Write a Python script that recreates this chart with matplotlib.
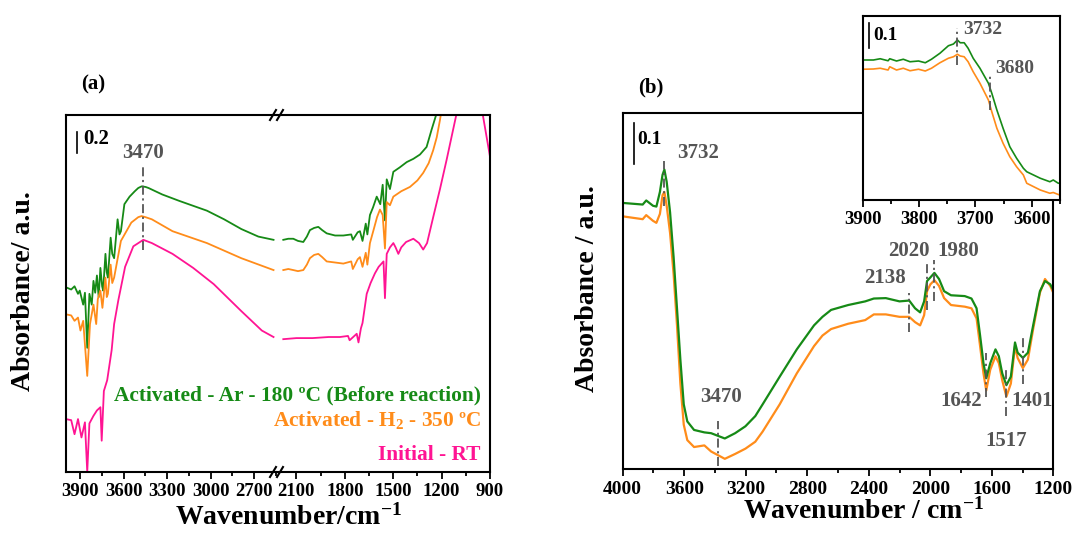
import matplotlib
matplotlib.use("Agg")
import matplotlib.pyplot as plt
from matplotlib.lines import Line2D
from matplotlib.ticker import MultipleLocator

plt.rcParams['font.family'] = ['Liberation Serif', 'DejaVu Serif']
plt.rcParams['font.weight'] = 'bold'
plt.rcParams['mathtext.fontset'] = 'custom'
plt.rcParams['mathtext.rm'] = 'Liberation Serif:bold'
plt.rcParams['mathtext.it'] = 'Liberation Serif:bold'
plt.rcParams['mathtext.bf'] = 'Liberation Serif:bold'
plt.rcParams['mathtext.default'] = 'rm'

GREEN = '#168a16'
ORANGE = '#ff8c1a'
PINK = '#ff1493'
GREY = '#555555'

# ---- panel (a): left segment (4000-2540 cm-1) ----
a_ar_wn_l = [4000, 3964, 3941, 3917, 3905, 3881, 3869, 3853, 3838, 3822, 3810, 3798, 3786, 3774, 3762,
             3750, 3743, 3727, 3718, 3710, 3691, 3680, 3667, 3643, 3630, 3620, 3596, 3560, 3524, 3500,
             3477, 3450, 3429, 3334, 3215, 3025, 2906, 2787, 2669, 2564]
a_ar_abs_l = [1.71, 1.69, 1.72, 1.65, 1.68, 1.55, 1.66, 1.15, 1.65, 1.55, 1.77, 1.66, 1.82, 1.62, 1.89,
              1.72, 1.68, 2.02, 1.85, 1.80, 2.17, 2.02, 1.98, 2.34, 2.20, 2.23, 2.48, 2.55, 2.60, 2.63,
              2.645, 2.64, 2.63, 2.57, 2.51, 2.42, 2.34, 2.25, 2.18, 2.15]
a_h2_wn_l = [4000, 3964, 3941, 3917, 3900, 3881, 3853, 3834, 3810, 3791, 3780, 3762, 3748, 3727, 3718,
             3710, 3691, 3680, 3667, 3620, 3548, 3500, 3477, 3450, 3406, 3263, 3025, 2787, 2564]
a_h2_abs_l = [1.46, 1.45, 1.40, 1.43, 1.31, 1.40, 0.89, 1.37, 1.55, 1.37, 1.60, 1.68, 1.52, 1.80, 1.62,
              1.65, 1.92, 1.75, 1.80, 2.14, 2.31, 2.36, 2.37, 2.36, 2.34, 2.23, 2.12, 1.98, 1.87]
a_rt_wn_l = [4000, 3964, 3941, 3917, 3893, 3869, 3853, 3838, 3810, 3786, 3762, 3753, 3738, 3715, 3684,
             3667, 3638, 3591, 3534, 3465, 3406, 3263, 3120, 2978, 2787, 2645, 2564]
a_rt_abs_l = [0.49, 0.48, 0.35, 0.49, 0.32, 0.46, 0.00, 0.45, 0.52, 0.57, 0.60, 0.29, 0.75, 0.85, 1.13,
              1.37, 1.59, 1.90, 2.09, 2.15, 2.12, 2.02, 1.89, 1.74, 1.49, 1.31, 1.25]

# ---- panel (a): right segment (2220-900 cm-1) ----
a_ar_wn_r = [2181, 2150, 2119, 2090, 2057, 2035, 2016, 1990, 1964, 1940, 1912, 1860, 1809, 1760, 1750,
             1720, 1706, 1690, 1670, 1660, 1644, 1625, 1602, 1580, 1565, 1551, 1540, 1520, 1499, 1460,
             1416, 1375, 1334, 1293, 1262, 1231, 1215]
a_ar_abs_r = [2.15, 2.16, 2.16, 2.14, 2.13, 2.18, 2.24, 2.26, 2.27, 2.24, 2.21, 2.19, 2.19, 2.20, 2.15,
              2.22, 2.23, 2.14, 2.30, 2.20, 2.38, 2.45, 2.55, 2.48, 2.66, 2.33, 2.71, 2.62, 2.78, 2.82,
              2.87, 2.90, 2.94, 3.01, 3.17, 3.32, 3.45]
a_h2_wn_r = [2181, 2150, 2119, 2090, 2057, 2035, 2016, 1990, 1964, 1940, 1912, 1860, 1809, 1760, 1750,
             1720, 1706, 1690, 1670, 1660, 1644, 1620, 1600, 1582, 1565, 1551, 1540, 1520, 1499, 1450,
             1396, 1350, 1314, 1280, 1252, 1230, 1210, 1195]
a_h2_abs_r = [1.87, 1.88, 1.87, 1.86, 1.87, 1.92, 1.98, 2.01, 2.02, 1.99, 1.95, 1.94, 1.93, 1.95, 1.88,
              1.97, 1.99, 1.90, 2.03, 1.92, 2.12, 2.25, 2.36, 2.43, 2.38, 2.07, 2.50, 2.47, 2.55, 2.60,
              2.64, 2.70, 2.77, 2.86, 2.98, 3.10, 3.26, 3.40]
a_rt_wn_r = [2181, 2100, 2000, 1900, 1830, 1780, 1770, 1726, 1715, 1700, 1690, 1664, 1640, 1613, 1590,
             1560, 1551, 1540, 1520, 1499, 1485, 1468, 1450, 1420, 1375, 1340, 1314, 1290, 1252, 1210,
             1169, 1107, 1085, 960, 946, 900]
a_rt_abs_r = [1.23, 1.24, 1.24, 1.25, 1.25, 1.26, 1.22, 1.28, 1.20, 1.33, 1.38, 1.65, 1.75, 1.84, 1.90,
              1.95, 1.61, 2.02, 2.08, 2.12, 2.08, 2.02, 2.08, 2.13, 2.16, 2.12, 2.06, 2.12, 2.36, 2.62,
              2.89, 3.32, 3.50, 3.50, 3.32, 2.92]

# ---- panel (b) ----
b_wn = [4000, 3870, 3847, 3803, 3781, 3758, 3741, 3729, 3714, 3692, 3669, 3647, 3625, 3603, 3580,
        3536, 3469, 3425, 3336, 3269, 3202, 3138, 3090, 2979, 2868, 2756, 2701, 2645, 2534, 2423,
        2367, 2289, 2200, 2137, 2099, 2066, 2040, 2021, 1999, 1973, 1943, 1910, 1865, 1776, 1732,
        1699, 1676, 1654, 1636, 1610, 1576, 1554, 1532, 1505, 1476, 1449, 1432, 1398, 1365, 1331,
        1287, 1254, 1220, 1200]
b_ar_abs = [0.654, 0.650, 0.660, 0.647, 0.645, 0.681, 0.723, 0.736, 0.706, 0.631, 0.521, 0.395, 0.269,
            0.159, 0.117, 0.096, 0.090, 0.088, 0.075, 0.088, 0.105, 0.130, 0.159, 0.227, 0.294, 0.353,
            0.374, 0.391, 0.403, 0.412, 0.419, 0.420, 0.412, 0.414, 0.395, 0.385, 0.412, 0.462, 0.471,
            0.482, 0.467, 0.437, 0.427, 0.425, 0.419, 0.395, 0.328, 0.260, 0.223, 0.260, 0.294, 0.277,
            0.235, 0.206, 0.227, 0.311, 0.286, 0.273, 0.286, 0.353, 0.437, 0.462, 0.454, 0.440]
b_h2_abs = [0.621, 0.614, 0.624, 0.610, 0.605, 0.627, 0.673, 0.681, 0.647, 0.580, 0.479, 0.353, 0.210,
            0.109, 0.071, 0.054, 0.058, 0.043, 0.025, 0.037, 0.050, 0.067, 0.092, 0.159, 0.235, 0.302,
            0.328, 0.344, 0.357, 0.366, 0.380, 0.380, 0.374, 0.374, 0.361, 0.353, 0.378, 0.437, 0.454,
            0.464, 0.450, 0.420, 0.403, 0.399, 0.395, 0.370, 0.302, 0.235, 0.193, 0.244, 0.277, 0.260,
            0.218, 0.178, 0.210, 0.302, 0.273, 0.248, 0.269, 0.344, 0.433, 0.467, 0.450, 0.433]

# ---- inset of (b) ----
in_wn = [3900, 3881, 3869, 3855, 3852, 3840, 3828, 3816, 3801, 3789, 3778, 3763, 3748, 3739, 3732,
         3727, 3720, 3713, 3704, 3692, 3677, 3671, 3662, 3651, 3639, 3627, 3615, 3609, 3585, 3568,
         3562, 3553, 3550]
in_ar_abs = [0.560, 0.560, 0.565, 0.557, 0.565, 0.556, 0.563, 0.553, 0.556, 0.549, 0.563, 0.587, 0.617,
             0.624, 0.640, 0.629, 0.629, 0.607, 0.567, 0.527, 0.467, 0.427, 0.360, 0.287, 0.213, 0.167,
             0.127, 0.113, 0.087, 0.073, 0.080, 0.067, 0.068]
in_h2_abs = [0.523, 0.524, 0.527, 0.520, 0.533, 0.520, 0.527, 0.517, 0.523, 0.516, 0.527, 0.549, 0.567,
             0.573, 0.583, 0.576, 0.573, 0.553, 0.513, 0.467, 0.400, 0.353, 0.287, 0.227, 0.173, 0.133,
             0.100, 0.067, 0.040, 0.027, 0.030, 0.022, 0.020]

legend_a = ['Activated - Ar - 180 ºC (Before reaction)', 'Activated - H$_2$ - 350 ºC', 'Initial - RT']

W, H = 1075, 536
fig = plt.figure(figsize=(W / 100, H / 100), dpi=100)


def box(x0, y0, x1, y1):
    return [x0 / W, 1 - y1 / H, (x1 - x0) / W, (y1 - y0) / H]


def fx(px):
    return px / W


def fy(py):
    return 1 - py / H


def style(ax, major, minor, size=13.5, pad=3):
    ax.xaxis.set_major_locator(MultipleLocator(major))
    ax.xaxis.set_minor_locator(MultipleLocator(minor))
    ax.tick_params(axis='x', which='major', direction='out', length=5, width=1.3,
                   labelsize=size, pad=pad, top=False)
    ax.tick_params(axis='x', which='minor', direction='out', length=3, width=1.3, top=False)
    ax.set_yticks([])
    for s in ax.spines.values():
        s.set_linewidth(1.5)


def vmark(ax, x, y0, y1):
    ax.plot([x, x], [y0, y1], color=GREY, lw=1.3, dashes=(5, 2, 1.2, 2))


# ---------------- panel (a) ----------------
ax_l = fig.add_axes(box(66, 115, 277, 472))
ax_r = fig.add_axes(box(277, 115, 490, 472))
lw_a = 1.3
ax_l.plot(a_ar_wn_l, a_ar_abs_l, color=GREEN, lw=lw_a)
ax_l.plot(a_h2_wn_l, a_h2_abs_l, color=ORANGE, lw=lw_a)
ax_l.plot(a_rt_wn_l, a_rt_abs_l, color=PINK, lw=lw_a)
ax_r.plot(a_ar_wn_r, a_ar_abs_r, color=GREEN, lw=lw_a)
ax_r.plot(a_h2_wn_r, a_h2_abs_r, color=ORANGE, lw=lw_a)
ax_r.plot(a_rt_wn_r, a_rt_abs_r, color=PINK, lw=lw_a)
ax_l.set_xlim(4000, 2540)
ax_r.set_xlim(2220, 900)
for ax in (ax_l, ax_r):
    ax.set_ylim(0, 3.306)
    style(ax, 300, 150, size=13.5, pad=3)
ax_l.spines['right'].set_visible(False)
ax_r.spines['left'].set_visible(False)

# break marks
for py in (115, 472):
    for cx in (273, 280):
        fig.add_artist(Line2D([fx(cx - 3), fx(cx + 3)], [fy(py + 5), fy(py - 5)],
                              color='black', lw=1.5))

# scale bar and 3470 mark
ax_l.plot([3922, 3922], [2.95, 3.15], color='black', lw=1.2)
ax_l.text(3884, 3.08, '0.2', fontsize=15, ha='left', va='center')
vmark(ax_l, 3470, 2.06, 2.84)
ax_l.text(3470, 2.95, '3470', fontsize=15, color=GREY, ha='center', va='center')

for txt, py, col in zip(legend_a, (395.5, 420, 455), (GREEN, ORANGE, PINK)):
    fig.text(fx(481), fy(py), txt, color=col, fontsize=15.4, ha='right', va='center')

fig.text(fx(93), fy(84), '(a)', fontsize=15, ha='center', va='center')
fig.text(fx(289), fy(517), 'Wavenumber/cm$^{-1}$', fontsize=20, ha='center', va='center')
fig.text(fx(24), fy(291), 'Absorbance/ a.u.', fontsize=20, ha='center', va='center', rotation=90)

# ---------------- panel (b) ----------------
ax_b = fig.add_axes(box(622.7, 113, 1053.3, 469))
ax_b.plot(b_wn, b_h2_abs, color=ORANGE, lw=1.6)
ax_b.plot(b_wn, b_ar_abs, color=GREEN, lw=1.6)
ax_b.set_xlim(4000, 1200)
ax_b.set_ylim(0, 0.875)
style(ax_b, 400, 200, size=14, pad=4)
ax_b.plot([3925, 3925], [0.75, 0.85], color='black', lw=1.2)
ax_b.text(3903, 0.811, '0.1', fontsize=14, ha='left', va='center')

b_marks = [(3729, 0.647, 0.756, '3732', 3646, 0.776, 'left'),
           (3380, 0.007, 0.118, '3470', 3358, 0.178, 'center'),
           (2137, 0.336, 0.433, '2138', 2295, 0.469, 'center'),
           (2021, 0.391, 0.505, '2020', 2138, 0.536, 'center'),
           (1978, 0.412, 0.513, '1980', 1815, 0.536, 'center'),
           (1636, 0.176, 0.286, '1642', 1800, 0.166, 'center'),
           (1505, 0.130, 0.243, '1517', 1504, 0.069, 'center'),
           (1398, 0.210, 0.324, '1401', 1338, 0.166, 'center')]
for x, y0, y1, lab, tx, ty, ha in b_marks:
    vmark(ax_b, x, y0, y1)
    ax_b.text(tx, ty, lab, fontsize=15, color=GREY, ha=ha, va='center')

fig.text(fx(651), fy(87), '(b)', fontsize=15, ha='center', va='center')
fig.text(fx(863), fy(511), 'Wavenumber / cm$^{-1}$', fontsize=20, ha='center', va='center')
fig.text(fx(587), fy(289), 'Absorbance / a.u.', fontsize=20, ha='center', va='center', rotation=90)

# ---------------- inset ----------------
ax_in = fig.add_axes(box(862.7, 16, 1060, 200))
ax_in.set_facecolor('white')
ax_in.plot(in_wn, in_h2_abs, color=ORANGE, lw=1.2)
ax_in.plot(in_wn, in_ar_abs, color=GREEN, lw=1.2)
ax_in.set_xlim(3900, 3550)
ax_in.set_ylim(0, 0.736)
style(ax_in, 100, 50, size=13.5, pad=3)
ax_in.plot([3888, 3888], [0.607, 0.707], color='black', lw=1.2)
ax_in.text(3881, 0.657, '0.1', fontsize=14, ha='left', va='center')
vmark(ax_in, 3732, 0.54, 0.687)
ax_in.text(3722, 0.68, '3732', fontsize=14, color=GREY, ha='left', va='center')
vmark(ax_in, 3675, 0.36, 0.50)
ax_in.text(3665, 0.527, '3680', fontsize=14, color=GREY, ha='left', va='center')

fig.savefig('out.png', dpi=100)
